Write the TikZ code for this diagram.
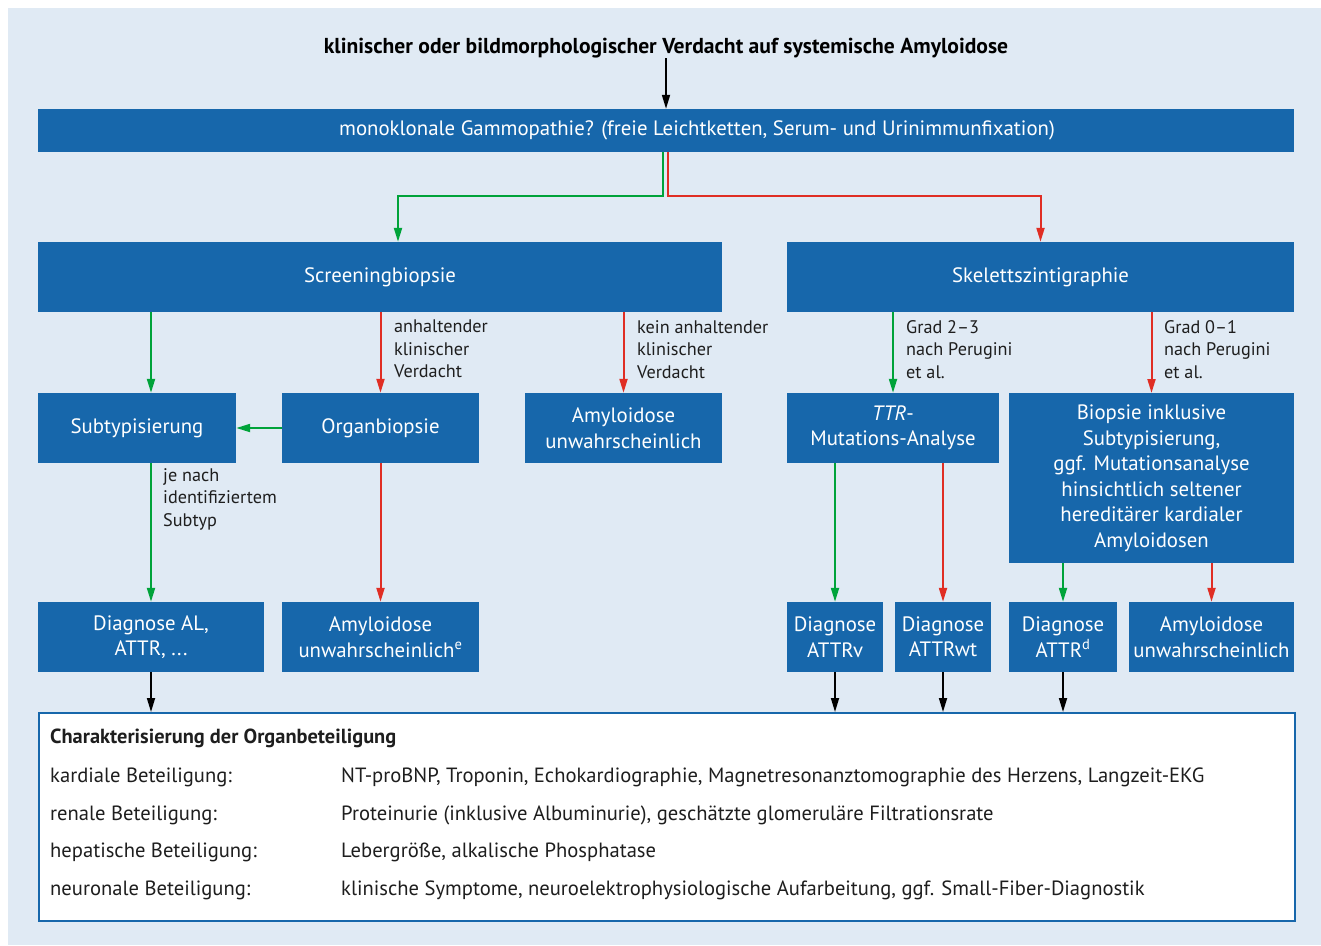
\documentclass[tikz,border=0pt]{standalone}
\usepackage{fontspec}
\setmainfont{PT Sans}
\usetikzlibrary{arrows.meta}
\definecolor{bgblue}{RGB}{224,234,244}
\definecolor{boxblue}{RGB}{23,103,171}
\definecolor{okgreen}{RGB}{0,163,58}
\definecolor{nored}{RGB}{224,46,36}
\definecolor{txtgray}{RGB}{30,30,30}

\begin{document}
\begin{tikzpicture}[x=1pt, y=-1pt, >={Triangle[width=8pt,length=14pt]},
  blk/.style={fill=boxblue, text=white, inner sep=0pt, align=center,
              font=\fontsize{20.8}{25.5}\selectfont},
  lbl/.style={anchor=north west, inner sep=0pt, align=left, text=txtgray,
              font=\fontsize{18.2}{22.5}\selectfont},
  row/.style={anchor=base west, inner sep=0pt, text=txtgray,
              font=\fontsize{20.6}{22}\selectfont},
  garrow/.style={->, okgreen, line width=2pt},
  rarrow/.style={->, nored, line width=2pt},
  karrow/.style={->, black, line width=1.7pt}]

\useasboundingbox (0,0) rectangle (1321,945);
\fill[bgblue] (8,8) rectangle (1321,945);

% ---------- top: suspicion and gammopathy check ----------
\node[inner sep=0pt, font=\bfseries\fontsize{21.6}{22}\selectfont] (susp) at (666,48)
  {klinischer oder bildmorphologischer Verdacht auf systemische Amyloidose};
\node[blk, minimum width=1256, minimum height=43] (mono) at (666,130.5)
  {\hspace*{62pt}monoklonale Gammopathie? (freie Leichtketten, Serum- und Urinimmunfixation)};
\draw[karrow] (susp.south) -- (mono.north);

% ---------- second level ----------
\node[blk, minimum width=684, minimum height=70] (screen) at (380,277) {Screeningbiopsie};
\node[blk, minimum width=507, minimum height=70] (skel) at (1040.5,277) {Skelettszintigraphie};

\draw[garrow] ([xshift=-3]mono.south) -- ++(0,44) -| ([xshift=18]screen.north);
\draw[rarrow] ([xshift=2]mono.south) -- ++(0,44) -| (skel.north);

% ---------- third level ----------
\node[blk, minimum width=198, minimum height=70] (subtyp) at (137,428) {Subtypisierung};
\node[blk, minimum width=197, minimum height=70] (organ) at (380.5,428) {Organbiopsie};
\node[blk, minimum width=197, minimum height=70] (unwA) at (623.5,428)
  {Amyloidose\\unwahrscheinlich};
\node[blk, minimum width=212, minimum height=70] (ttr) at (893,428)
  {\textit{TTR}-\\Mutations-Analyse};
\node[blk, minimum width=285, minimum height=170, anchor=north] (biop) at (1151.5,393)
  {Biopsie inklusive\\Subtypisierung,\\ggf. Mutationsanalyse\\hinsichtlich seltener\\hereditärer kardialer\\Amyloidosen};

% ---------- fourth level ----------
\node[blk, minimum width=226, minimum height=70] (diagAL) at (151,637) {Diagnose AL,\\ATTR, ...};
\node[blk, minimum width=197, minimum height=70] (unwB) at (380.5,637)
  {Amyloidose\\unwahrscheinlich\textsuperscript{e}};
\node[blk, minimum width=96, minimum height=70] (diagV) at (835,637) {Diagnose\\ATTRv};
\node[blk, minimum width=96, minimum height=70] (diagWT) at (943,637) {Diagnose\\ATTRwt};
\node[blk, minimum width=108, minimum height=70] (diagD) at (1063,637)
  {Diagnose\\ATTR\textsuperscript{d}};
\node[blk, minimum width=165, minimum height=70] (unwC) at (1211.5,637)
  {Amyloidose\\unwahrscheinlich};

% ---------- connectors ----------
\draw[garrow] (screen.south -| diagAL) -- (subtyp.north -| diagAL);
\draw[rarrow] (screen.south -| organ) -- (organ.north);
\draw[rarrow] (screen.south -| unwA) -- (unwA.north);
\draw[garrow] (skel.south -| ttr) -- (ttr.north);
\draw[rarrow] (skel.south -| biop) -- (biop.north);
\draw[garrow] (organ.west) -- (subtyp.east);
\draw[garrow] (subtyp.south -| diagAL) -- (diagAL.north);
\draw[rarrow] (organ.south) -- (unwB.north);
\draw[garrow] (ttr.south -| diagV) -- (diagV.north);
\draw[rarrow] (ttr.south -| diagWT) -- (diagWT.north);
\draw[garrow] (biop.south -| diagD) -- (diagD.north);
\draw[rarrow] (biop.south -| unwC) -- (unwC.north);

% ---------- connector labels ----------
\node[lbl] (lblA) at (394,320) {anhaltender\\klinischer\\Verdacht};
\node[lbl] (lblB) at (637,320) {kein anhaltender\\klinischer\\Verdacht};
\node[lbl] (lblC) at (906,320) {Grad 2–3\\nach Perugini\\et al.};
\node[lbl] (lblD) at (1164,320) {Grad 0–1\\nach Perugini\\et al.};
\node[lbl] (lblE) at (163,468) {je nach\\identifiziertem\\Subtyp};

% ---------- organ involvement box ----------
\node[draw=boxblue, line width=1.5pt, fill=white, minimum width=1256, minimum height=208,
      anchor=north west, inner sep=0pt] (char) at (38,712) {};
\foreach \d in {diagAL, diagV, diagWT, diagD}
  \draw[karrow] (\d.south) -- (\d |- char.north);

\node[row, font=\bfseries\fontsize{20.4}{22}\selectfont] (charT) at (50,743)
  {Charakterisierung der Organbeteiligung};
\node[row] (kard) at (50,782) {kardiale Beteiligung:};
\node[row] (ren)  at (50,820) {renale Beteiligung:};
\node[row] (hep)  at (50,857) {hepatische Beteiligung:};
\node[row] (neur) at (50,895) {neuronale Beteiligung:};
\node[row] (kardT) at (341,782)
  {NT-proBNP, Troponin, Echokardiographie, Magnetresonanztomographie des Herzens, Langzeit-EKG};
\node[row] (renT)  at (341,820)
  {Proteinurie (inklusive Albuminurie), geschätzte glomeruläre Filtrationsrate};
\node[row] (hepT)  at (341,857) {Lebergröße, alkalische Phosphatase};
\node[row] (neurT) at (341,895)
  {klinische Symptome, neuroelektrophysiologische Aufarbeitung, ggf. Small-Fiber-Diagnostik};

\end{tikzpicture}
\end{document}
